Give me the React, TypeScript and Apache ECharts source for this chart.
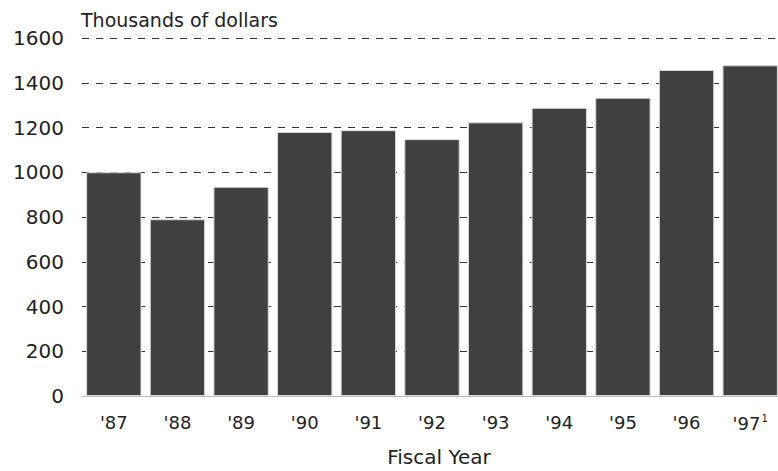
import React, { useEffect, useRef } from "react";
import * as echarts from "echarts";

const categories = ["'87", "'88", "'89", "'90", "'91", "'92", "'93", "'94", "'95", "'96", "'97"];
const values = [1000, 790, 935, 1180, 1188, 1148, 1223, 1288, 1333, 1457, 1478];
const yTicks = [0, 200, 400, 600, 800, 1000, 1200, 1400, 1600];
const yTitle = "Thousands of dollars";
const xTitle = "Fiscal Year";

export default function App() {
  const ref = useRef<HTMLDivElement>(null);
  useEffect(() => {
    const chart = echarts.init(ref.current!, null, { renderer: "svg" });
    const font = "'DejaVu Sans', sans-serif";
    chart.setOption({
      animation: false,
      backgroundColor: "#ffffff",
      textStyle: { fontFamily: font, color: "#222" },
      grid: { left: 82, right: -4, top: 38, bottom: 75, containLabel: false, outerBoundsMode: "none" },
      title: {
        text: yTitle,
        left: 76,
        top: 5,
        textStyle: { fontFamily: font, fontSize: 19, fontWeight: "normal", color: "#222" },
      },
      xAxis: {
        type: "category",
        data: categories,
        axisLine: { show: true, lineStyle: { color: "#bbb", width: 1 } },
        axisTick: { show: false },
        name: xTitle,
        nameLocation: "middle",
        nameGap: 51,
        nameTextStyle: { fontFamily: font, fontSize: 20, color: "#222", padding: [0, 0, 0, 14] },
        axisLabel: {
          interval: 0,
          margin: 17,
          fontFamily: font,
          fontSize: 18,
          color: "#222",
          formatter: (v: string) => (v === "'97" ? "{a|" + v + "}{s|1}" : v),
          rich: {
            a: { fontFamily: font, fontSize: 18, color: "#222" },
            s: { fontFamily: font, fontSize: 10, color: "#222", verticalAlign: "top", padding: [0, 0, 10, 1] },
          },
        },
      },
      yAxis: {
        type: "value",
        min: yTicks[0],
        max: yTicks[yTicks.length - 1],
        interval: 200,
        axisLine: { show: false },
        axisTick: { show: false },
        axisLabel: { margin: 18, fontFamily: font, fontSize: 20, color: "#222", formatter: (v: number) => String(v) },
        splitLine: { show: true, lineStyle: { color: "#333", type: [7, 7], width: 1.2 } },
      },
      series: [
        {
          type: "bar",
          data: values,
          barCategoryGap: "13%",
          itemStyle: { color: "#404040", borderColor: "#d8d8d8", borderWidth: 1 },
        },
      ],
    });
    return () => chart.dispose();
  }, []);
  return <div ref={ref} style={{ width: 778, height: 471, position: "absolute", left: 0, top: 0 }} />;
}
